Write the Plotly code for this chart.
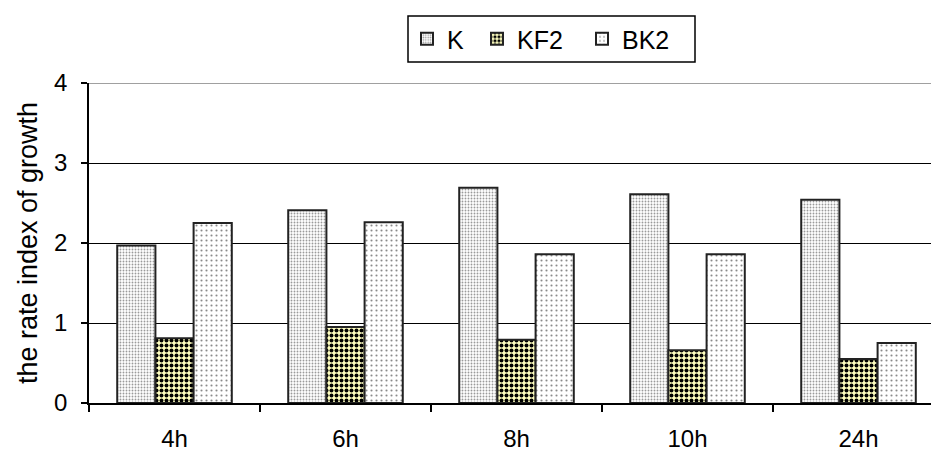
import plotly.graph_objects as go

# Sampling times and growth-rate index for each strain
times = ["4h", "6h", "8h", "10h", "24h"]
k_vals = [1.97, 2.41, 2.69, 2.61, 2.54]
kf2_vals = [0.81, 0.95, 0.79, 0.66, 0.55]
bk2_vals = [2.25, 2.26, 1.86, 1.86, 0.75]

series = [
    ("K", k_vals, dict(shape=".", size=3, solidity=0.3, fgcolor="#9a9a9a", bgcolor="white", fillmode="replace")),
    ("KF2", kf2_vals, dict(shape=".", size=5, solidity=0.5, fgcolor="black", bgcolor="#ffffc0", fillmode="replace")),
    ("BK2", bk2_vals, dict(shape=".", size=5, solidity=0.14, fgcolor="#8a8a8a", bgcolor="white", fillmode="replace")),
]

FONT = "Liberation Sans, Arial, sans-serif"
TICK_FS = 24
TITLE_FS = 27
LEG_FS = 25

# plot-area geometry (pixels) used to place the legend frame in paper units
L, R, T, B = 89, 931, 83, 403
px_x = lambda p: (p - L) / (R - L)
px_y = lambda p: (B - p) / (B - T)

legend_names = ["legend", "legend2", "legend3"]
legend_x = [407, 477, 582]

fig = go.Figure()
for (name, vals, pat), lg in zip(series, legend_names):
    fig.add_trace(go.Bar(
        x=times, y=vals, name=name, legend=lg,
        marker=dict(color="white", pattern=pat, line=dict(color="#222222", width=2)),
    ))

legends = {}
for lg, lx in zip(legend_names, legend_x):
    legends[lg] = dict(
        orientation="h", x=px_x(lx), y=px_y(39), xanchor="left", yanchor="middle",
        borderwidth=0, bgcolor="rgba(0,0,0,0)", font=dict(family=FONT, size=LEG_FS),
    )

fig.update_layout(
    width=931, height=453,
    margin=dict(l=L, r=0, t=T, b=453 - B),
    paper_bgcolor="white", plot_bgcolor="white",
    barmode="group", bargap=0.33, bargroupgap=0,
    font=dict(family=FONT, size=TICK_FS, color="black"),
    showlegend=True,
    xaxis=dict(
        range=[-0.5, -0.5 + (R - L) / 171], showgrid=False, tickson="boundaries",
        ticks="outside", ticklen=7, tickcolor="black", tickwidth=1.5,
        showline=True, linecolor="black", linewidth=1.5,
        tickfont=dict(size=TICK_FS), ticklabelstandoff=13,
    ),
    yaxis=dict(
        range=[0, 4], dtick=1, showgrid=True, gridcolor="black", gridwidth=1,
        ticks="outside", ticklen=6, tickcolor="black", tickwidth=1.5,
        showline=True, linecolor="black", linewidth=1.5, zeroline=False,
        tickfont=dict(size=TICK_FS), ticklabelstandoff=9,
        title=dict(text="the rate index of growth", font=dict(size=TITLE_FS), standoff=9),
    ),
    shapes=[
        dict(type="line", xref="paper", x0=0, x1=1, yref="y", y0=4, y1=4,
             line=dict(color="#a0a0a0", width=2), layer="above"),
        dict(type="rect", xref="paper", yref="paper",
             x0=px_x(408), x1=px_x(695), y0=px_y(62), y1=px_y(16),
             line=dict(color="black", width=1.5), fillcolor="rgba(0,0,0,0)"),
    ],
    **legends,
)

fig.write_html("out.html")
